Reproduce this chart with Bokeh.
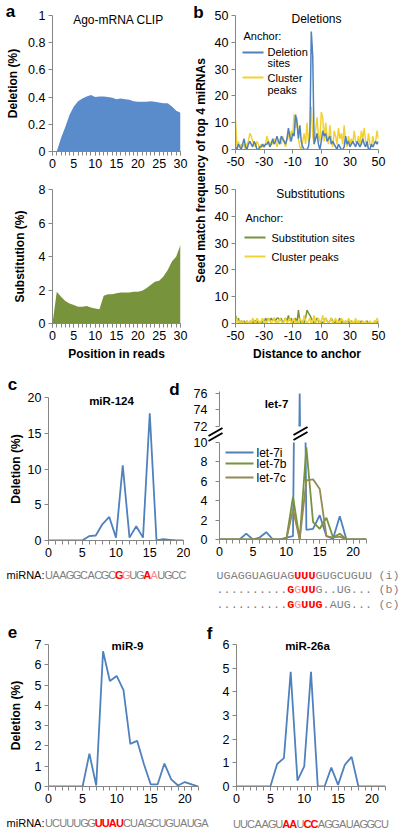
import numpy as np
from bokeh.plotting import figure
from bokeh.layouts import column, row
from bokeh.models import Label, Arrow, Range1d, FixedTicker, NumeralTickFormatter, GridBox
from bokeh.embed import file_html
from bokeh.resources import INLINE

FONT = "Liberation Sans"
MONO = "Liberation Mono"
GREY = "#868686"
BLUE = "#4F81BD"
GREEN = "#77933C"
YELLOW = "#F2D230"
TAN = "#948A54"
FILL_BLUE = "#5A8BCB"
SEQ_GREY = "#7F7F7F"
RED = "#FF0000"
PINK = "#FF8A8A"

# ---------------- data ----------------
# panel a
read_pos_del = list(range(1, 31))
deletion_pct = [0, 0.10, 0.18, 0.27, 0.33, 0.37, 0.39, 0.405, 0.415, 0.40,
                0.405, 0.405, 0.40, 0.395, 0.385, 0.39, 0.385, 0.38, 0.37, 0.365,
                0.365, 0.365, 0.37, 0.365, 0.36, 0.355, 0.355, 0.33, 0.30, 0.285]
read_pos_sub = list(range(0, 31))
substitution_pct = [0, 1.9, 1.6, 1.35, 1.2, 1.1, 1.0, 1.0, 1.05, 0.95,
                    0.9, 0.85, 1.65, 1.75, 1.75, 1.8, 1.85, 1.85, 1.85, 1.9,
                    1.9, 1.95, 2.1, 2.3, 2.5, 2.55, 2.8, 3.2, 3.7, 4.0, 4.7]

# panel b
distance = list(range(-50, 51))
del_sites = [1, 0, 2, 1, 0, 2, 4, 1, 0, 2,
             3, 2, 1, 3, 2, 0, 0, 1, 1, 2,
             1, 2, 2, 3, 1, 2, 4, 2, 3, 5,
             3, 2, 5, 4, 3, 2, 4, 8, 5, 3,
             6, 5, 13, 10, 4, 9, 3, 1, 0, 0,
             0, 1, 5, 44, 35, 2, 4, 6, 2, 0,
             3, 7, 5, 6, 3, 4, 5, 2, 3, 2,
             1, 0, 2, 1, 0, 0, 1, 5, 2, 3,
             1, 2, 3, 2, 1, 3, 2, 1, 2, 4,
             2, 1, 3, 0, 0, 2, 1, 2, 3, 2,
             3]
del_peaks = [11, 1, 3, 1, 2, 1, 2, 0, 2, 3,
             6, 5, 3, 2, 1, 3, 2, 0, 2, 1,
             1, 2, 5, 3, 1, 3, 2, 4, 3, 1,
             3, 4, 2, 5, 3, 1, 4, 6, 3, 7,
             5, 13, 8, 12, 4, 1, 0, 3, 6, 2,
             10, 3, 7, 16, 5, 2, 7, 12, 5, 3,
             14, 12, 3, 10, 5, 2, 9, 4, 1, 7,
             5, 2, 8, 4, 6, 2, 9, 3, 1, 5,
             2, 4, 2, 7, 3, 2, 5, 1, 7, 4,
             8, 3, 1, 6, 2, 1, 5, 2, 3, 7,
             4]
sub_sites = [3, 1, 2, 0, 1, 0, 1, 0, 1, 0,
             0, 1, 0, 1, 1, 0, 1, 0, 0, 1,
             0, 2, 1, 2, 1, 2, 1, 2, 1, 2,
             2, 1, 2, 0, 1, 2, 1, 3, 1, 2,
             0, 1, 2, 0, 5, 1, 0, 1, 0, 2,
             5, 4, 3, 2, 1, 0, 1, 2, 1, 0,
             1, 0, 1, 2, 1, 0, 1, 2, 1, 0,
             1, 0, 1, 2, 0, 1, 0, 1, 0, 1,
             0, 1, 0, 0, 1, 0, 1, 0, 1, 0,
             0, 0, 1, 0, 0, 0, 0, 0, 1, 0,
             1]
sub_peaks = [0, 2, 0, 1, 0, 1, 0, 0, 1, 0,
             1, 0, 2, 1, 0, 2, 1, 0, 1, 2,
             0, 1, 0, 2, 1, 0, 1, 2, 0, 1,
             0, 2, 1, 0, 1, 2, 0, 1, 2, 0,
             1, 2, 0, 1, 0, 2, 1, 0, 3, 1,
             0, 1, 2, 0, 1, 3, 0, 1, 2, 0,
             1, 3, 0, 2, 1, 0, 1, 2, 0, 1,
             2, 0, 1, 0, 2, 1, 0, 1, 0, 2,
             1, 0, 1, 0, 2, 0, 1, 0, 0, 1,
             0, 1, 0, 0, 1, 0, 0, 1, 0, 2,
             1]

# panel c
mir124_pos = list(range(0, 21))
mir124_del = [0, 0, 0, 0, 0, 0, 0.6, 0.7, 2.3, 3.3, 0.4,
              10.5, 0.4, 2.0, 0.4, 17.8, 0, 0.2, 0.1, 0, 0]
mir124_seq = "UAAGGCACGCGGUGAAUGCC"
mir124_mark = "ggggggggggRpggRpgggg"

# panel d
let7_pos = list(range(0, 23))
let7i_del = [0, 0, 0, 0, 0.6, 0, 0.2, 0.75, 0, 0, 0.2, 0.35, 76,
             1.0, 1.1, 2.5, 0.35, 0.1, 2.4, 0, 0, 0, 0]
let7b_del = [0, 0, 0, 0, 0, 0, 0, 0, 0, 0, 0, 4.4, 0,
             9.5, 1.8, 1.1, 2.25, 0.2, 0.6, 0, 0, 0, 0]
let7c_del = [0, 0, 0, 0, 0, 0, 0, 0, 0, 0, 0, 3.1, 0,
             6.1, 6.2, 5.2, 0.35, 0.2, 0.3, 0, 0, 0, 0]
let7_seqs = ["UGAGGUAGUAGUUUGUGCUGUU",
             "..........GGUUG..UG...",
             "..........GGUUG.AUG..."]
let7_marks = ["gggggggggggRRRgggggggg",
              "ggggggggggRpRRgggggggg",
              "ggggggggggRpRRRggggggg"]
let7_tags = ["(i)", "(b)", "(c)"]

# panel e
mir9_pos = list(range(0, 23))
mir9_del = [0, 0, 0, 0, 0, 0, 1.62, 0.05, 6.67, 5.2, 5.45, 4.75,
            2.1, 2.25, 1.1, 0.1, 0.1, 1.13, 0.35, 0.05, 0.22, 0.1, 0]
mir9_seq = "UCUUUGGUUAUCUAGCUGUAUGA"
mir9_mark = "gggggggRRRRgggggggggggg"

# panel f
mir26_pos = list(range(0, 23))
mir26_del = [0, 0, 0, 0, 0, 0, 0.95, 1.2, 4.85, 0.25, 0.85, 4.85,
             0, 0, 0.8, 0.07, 0.92, 1.25, 0, 0, 0, 0, 0]
mir26_seq = "UUCAAGUAAUCCAGGAUAGGCU"
mir26_mark = "gggggggRRgRRgggggggggg"


# ---------------- helpers ----------------
def make_fig(w, h, xr, yr, bl, br, bt, bb, xaxis=True, yaxis=True):
    p = figure(width=w, height=h, x_range=Range1d(*xr), y_range=Range1d(*yr),
               output_backend="svg", toolbar_location=None,
               x_axis_location="below" if xaxis else None,
               y_axis_location="left" if yaxis else None,
               min_border_left=bl, min_border_right=br,
               min_border_top=bt, min_border_bottom=bb)
    p.outline_line_color = None
    p.xgrid.visible = False
    p.ygrid.visible = False
    p.background_fill_color = "white"
    p.border_fill_color = "white"
    for ax in p.axis:
        ax.axis_line_color = GREY
        ax.axis_line_width = 1
        ax.major_tick_line_color = GREY
        ax.minor_tick_line_color = GREY
        ax.major_tick_in = 0
        ax.major_tick_out = 4
        ax.minor_tick_in = 0
        ax.minor_tick_out = 4
        ax.major_label_text_font = FONT
        ax.major_label_text_font_size = "12.5px"
        ax.major_label_text_color = "black"
        ax.major_label_standoff = 3
        ax.axis_label_text_font = FONT
        ax.axis_label_text_font_size = "12px"
        ax.axis_label_text_font_style = "bold"
        ax.axis_label_text_color = "black"
    return p


def set_ticks(p, xt=None, xminor=None, yt=None, yfmt="0"):
    if xt is not None:
        p.xaxis.ticker = FixedTicker(ticks=xt, minor_ticks=xminor or [])
        p.xaxis.formatter = NumeralTickFormatter(format="0")
    if yt is not None:
        p.yaxis.ticker = FixedTicker(ticks=yt)
        p.yaxis.formatter = NumeralTickFormatter(format=yfmt)


# overlay canvas for free-standing texts (page pixel coordinates, y downward)
W, H = 400, 830
ov = figure(width=W, height=H, x_range=Range1d(0, W), y_range=Range1d(H, 0),
            output_backend="svg", toolbar_location=None,
            x_axis_location=None, y_axis_location=None,
            min_border_left=0, min_border_right=0, min_border_top=0, min_border_bottom=0)
ov.outline_line_color = None
ov.xgrid.visible = False
ov.ygrid.visible = False
ov.background_fill_alpha = 0
ov.border_fill_alpha = 0


def txt(x, y, text, size="12px", bold=False, align="center", color="black",
        font=FONT, angle=0.0):
    ov.add_layout(Label(x=x, y=y, text=text, text_font=font, text_font_size=size,
                        text_font_style="bold" if bold else "normal",
                        text_align=align, text_baseline="middle",
                        text_color=color, angle=angle))


def key_line(x0, x1, y, color, width=2):
    ov.add_layout(Arrow(end=None, x_start=x0, y_start=y, x_end=x1, y_end=y,
                        line_color=color, line_width=width))


def break_mark(cx, cy):
    for off in (-2.5, 2.5):
        ov.add_layout(Arrow(end=None, x_start=cx - 7, y_start=cy + 4 + off,
                            x_end=cx + 7, y_end=cy - 4 + off,
                            line_color="black", line_width=2))


def sequence(seq, marks, frame_left, px_per_unit, start, pitch, y,
             font=FONT, size="11px"):
    for i, (ch, m) in enumerate(zip(seq, marks)):
        if m == "R":
            col, st = RED, "bold"
        elif m == "p":
            col, st = PINK, "normal"
        else:
            col, st = SEQ_GREY, "normal"
        ov.add_layout(Label(x=frame_left + (start + i * pitch) * px_per_unit, y=y,
                            text=ch, text_font=font, text_font_size=size,
                            text_font_style=st, text_color=col,
                            text_align="center", text_baseline="middle"))


x_ticks30 = [0, 5, 10, 15, 20, 25, 30]
x_ticks20 = [0, 5, 10, 15, 20]

# ---------------- panel a ----------------
a_top = make_fig(190, 175, (0, 30), (0, 1), 52, 10, 15, 24)
set_ticks(a_top, x_ticks30, list(range(0, 31)), [0, 0.2, 0.4, 0.6, 0.8, 1], "0.[0]")
a_top.varea(x=read_pos_del, y1=0, y2=deletion_pct, fill_color=FILL_BLUE)
a_top.yaxis.axis_label = "Deletion (%)"
a_top.yaxis.axis_label_standoff = 5

a_bot = make_fig(190, 193, (0, 30), (0, 8), 52, 10, 14, 45)
set_ticks(a_bot, x_ticks30, list(range(0, 31)), [0, 2, 4, 6, 8])
a_bot.varea(x=read_pos_sub, y1=0, y2=substitution_pct, fill_color=GREEN)
a_bot.yaxis.axis_label = "Substitution (%)"
a_bot.yaxis.axis_label_standoff = 9
a_bot.xaxis.axis_label = "Position in reads"
a_bot.xaxis.axis_label_standoff = 4

txt(10, 11, "a", size="17px", bold=True)
txt(118, 19, "Ago-mRNA CLIP", size="12px")

# ---------------- panel b ----------------
b_ticks = [-50, -30, -10, 10, 30, 50]
b_top = make_fig(210, 175, (-50, 50), (0, 50), 42, 16, 15, 26)
set_ticks(b_top, b_ticks, None, [0, 10, 20, 30, 40, 50])
b_top.line(distance, del_peaks, line_color=YELLOW, line_width=1.5)
b_top.line(distance, del_sites, line_color=BLUE, line_width=1.5)

b_bot = make_fig(210, 193, (-50, 50), (0, 50), 45, 22, 14, 45)
set_ticks(b_bot, b_ticks, None, [0, 10, 20, 30, 40, 50])
b_bot.line(distance, sub_sites, line_color=GREEN, line_width=1.5)
b_bot.line(distance, sub_peaks, line_color=YELLOW, line_width=1.5)
b_bot.xaxis.axis_label = "Distance to anchor"
b_bot.xaxis.axis_label_standoff = 4

txt(198, 12, "b", size="17px", bold=True)
txt(200, 170, "Seed match frequency of top 4 miRNAs", size="12px", bold=True,
    angle=np.pi / 2)
txt(316, 18, "Deletions", size="12px")
txt(243, 35, "Anchor:", size="11px", align="left")
key_line(242, 263, 52, BLUE)
txt(267, 51, "Deletion", size="11px", align="left")
txt(267, 62, "sites", size="11px", align="left")
key_line(242, 263, 77, YELLOW)
txt(267, 77, "Cluster", size="11px", align="left")
txt(267, 89, "peaks", size="11px", align="left")

txt(310, 193, "Substitutions", size="12px")
txt(245, 217, "Anchor:", size="11px", align="left")
key_line(244, 265, 237, GREEN)
txt(271, 237, "Substitution sites", size="11px", align="left")
key_line(244, 265, 256, YELLOW)
txt(271, 256, "Cluster peaks", size="11px", align="left")

# ---------------- panel c ----------------
c_fig = make_fig(190, 247, (0, 20), (0, 20), 48, 7, 29, 75)
set_ticks(c_fig, x_ticks20, list(range(0, 21)), [0, 5, 10, 15, 20])
c_fig.line(mir124_pos, mir124_del, line_color=BLUE, line_width=1.8)
c_fig.yaxis.axis_label = "Deletion (%)"
c_fig.yaxis.axis_label_standoff = 2

txt(12, 384, "c", size="17px", bold=True)
txt(111, 400, "miR-124", size="11.5px", bold=True)
txt(44, 574, "miRNA:", size="11px", align="right")
sequence(mir124_seq, mir124_mark, 48, 135 / 20, 0.07, 1.04, 574)

# ---------------- panel d ----------------
d_up = make_fig(210, 66, (0, 22), (72, 76.24), 27, 34, 23, 8, xaxis=False)
set_ticks(d_up, None, None, [72, 74, 76])
d_up.yaxis.major_label_standoff = 8
for vals, col in ((let7i_del, BLUE), (let7b_del, GREEN), (let7c_del, TAN)):
    d_up.line(let7_pos, vals, line_color=col, line_width=1.8)

d_low = make_fig(210, 181, (0, 22), (0, 10), 27, 34, 8, 76)
set_ticks(d_low, x_ticks20, list(range(0, 23)), [0, 2, 4, 6, 8, 10])
d_low.yaxis.major_label_standoff = 8
for vals, col in ((let7i_del, BLUE), (let7b_del, GREEN), (let7c_del, TAN)):
    d_low.line(let7_pos, vals, line_color=col, line_width=1.8)

txt(174, 389, "d", size="17px", bold=True)
txt(276, 403, "let-7", size="11.5px", bold=True)
for name, col, y in (("let-7i", BLUE, 452), ("let-7b", GREEN, 463), ("let-7c", TAN, 477)):
    key_line(225, 253, y, col)
    txt(256, y, name, size="12px", align="left")
break_mark(215, 434)
break_mark(300, 433)
for k, y in enumerate((575, 589, 604)):
    sequence(let7_seqs[k], let7_marks[k], 217, 149 / 22, 0.37, 1.044, y,
             font=MONO, size="11.7px")
    txt(378, y, let7_tags[k], size="11.7px", align="left", color=SEQ_GREY, font=MONO)

# ---------------- panel e ----------------
e_fig = make_fig(212, 215, (0, 22), (0, 7), 48, 14, 29, 42)
set_ticks(e_fig, x_ticks20, list(range(0, 23)), [0, 1, 2, 3, 4, 5, 6, 7])
e_fig.line(mir9_pos, mir9_del, line_color=BLUE, line_width=1.8)
e_fig.yaxis.axis_label = "Deletion (%)"
e_fig.yaxis.axis_label_standoff = 9

txt(12, 631, "e", size="17px", bold=True)
txt(127, 645, "miR-9", size="11.5px", bold=True)
txt(44, 822, "miRNA:", size="11px", align="right")
sequence(mir9_seq, mir9_mark, 48, 150 / 22, 0.07, 1.04, 822)

# ---------------- panel f ----------------
f_fig = make_fig(188, 215, (0, 22), (0, 6), 24, 15, 28, 44)
set_ticks(f_fig, x_ticks20, list(range(0, 23)), [0, 1, 2, 3, 4, 5, 6])
f_fig.line(mir26_pos, mir26_del, line_color=BLUE, line_width=1.8)

txt(209, 633, "f", size="17px", bold=True)
txt(307, 645, "miR-26a", size="11.5px", bold=True)
sequence(mir26_seq, mir26_mark, 236, 149 / 22, 0.07, 1.04, 823)

main = column(
    row(column(a_top, a_bot), column(b_top, b_bot)),
    row(c_fig, column(d_up, d_low)),
    row(e_fig, f_fig),
)
root = GridBox(children=[(main, 0, 0), (ov, 0, 0)])

open("out.html", "w").write(file_html(root, INLINE, title="Ago-mRNA CLIP"))
